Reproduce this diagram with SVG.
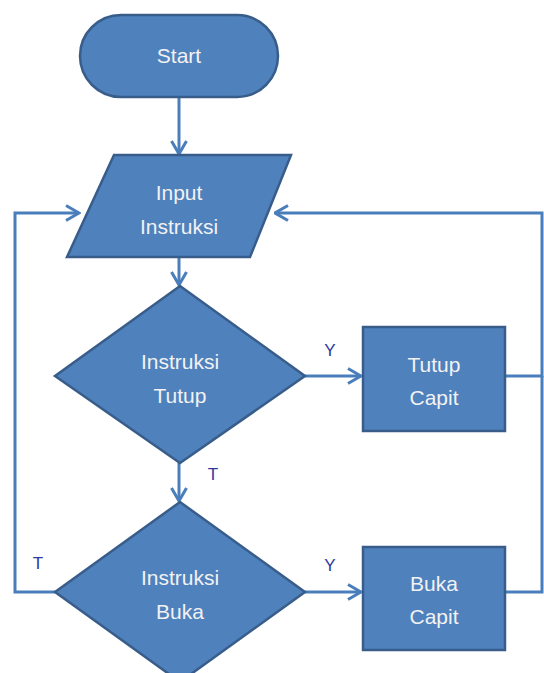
<svg xmlns="http://www.w3.org/2000/svg" width="544" height="673" viewBox="0 0 544 673">
<style>
.n{fill:#4F81BD;stroke:#385D8A;stroke-width:2.5}
.t{font-family:"Liberation Sans",Arial,sans-serif;font-size:21px;fill:#F2F2F2;text-anchor:middle}
.l{font-family:"Liberation Sans",Arial,sans-serif;font-size:17px;fill:#2E3A9E;text-anchor:middle}
.c{fill:none;stroke:#4A7EBB;stroke-width:3}
</style>
<defs>
<marker id="a" viewBox="0 0 16 18" refX="14.5" refY="9" markerWidth="16" markerHeight="18" markerUnits="userSpaceOnUse" orient="auto">
<polyline points="1.5,1.5 14.5,9 1.5,16.5" fill="none" stroke="#4A7EBB" stroke-width="3"/>
</marker>
</defs>
<rect width="544" height="673" fill="#fff"/>
<g id="connectors">
<line class="c" x1="179" y1="97" x2="179" y2="154" marker-end="url(#a)"/>
<line class="c" x1="179" y1="257" x2="179" y2="285" marker-end="url(#a)"/>
<line class="c" x1="305" y1="376" x2="361" y2="376" marker-end="url(#a)"/>
<line class="c" x1="179" y1="463" x2="179" y2="501" marker-end="url(#a)"/>
<line class="c" x1="305" y1="592" x2="361" y2="592" marker-end="url(#a)"/>
<polyline class="c" points="55,592 15,592 15,213 79,213" marker-end="url(#a)"/>
<polyline class="c" points="505,376 542,376 542,213 275,213" marker-end="url(#a)"/>
<polyline class="c" points="505,592 542,592 542,376"/>
<text class="l" x="330" y="356">Y</text>
<text class="l" x="213" y="480">T</text>
<text class="l" x="38" y="569">T</text>
<text class="l" x="330" y="571">Y</text>
</g>
<g id="start">
<rect class="n" x="80" y="15" width="198" height="82" rx="41"/>
<text class="t" x="179" y="63">Start</text>
</g>
<g id="input">
<polygon class="n" points="114,155 291,155 250,257 67,257"/>
<text class="t" x="179" y="200">Input</text>
<text class="t" x="179" y="234">Instruksi</text>
</g>
<g id="tutup">
<polygon class="n" points="180,286 305,376 180,463 55,376"/>
<text class="t" x="180" y="369">Instruksi</text>
<text class="t" x="180" y="403">Tutup</text>
</g>
<g id="tutupcapit">
<rect class="n" x="363" y="327" width="142" height="104"/>
<text class="t" x="434" y="372">Tutup</text>
<text class="t" x="434" y="405">Capit</text>
</g>
<g id="buka">
<polygon class="n" points="180,502 305,592 180,682 55,592"/>
<text class="t" x="180" y="585">Instruksi</text>
<text class="t" x="180" y="619">Buka</text>
</g>
<g id="bukacapit">
<rect class="n" x="363" y="547" width="142" height="103"/>
<text class="t" x="434" y="591">Buka</text>
<text class="t" x="434" y="624">Capit</text>
</g>
</svg>
